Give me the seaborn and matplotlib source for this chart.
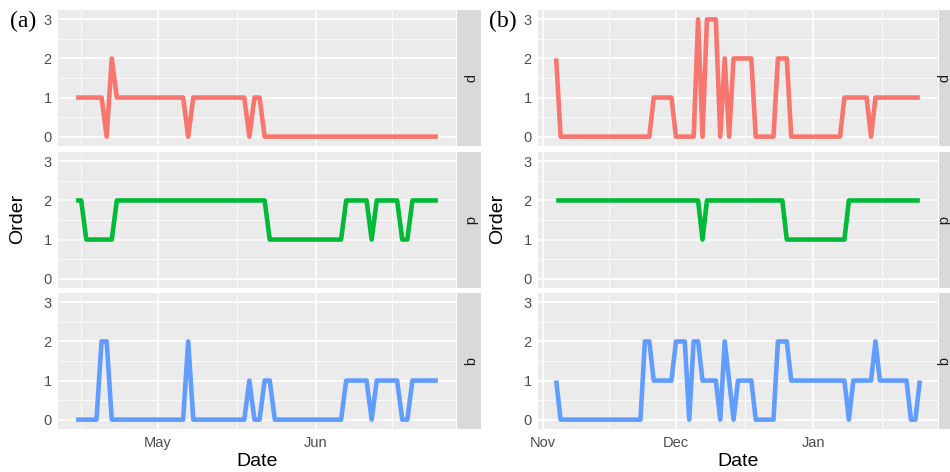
import pandas as pd
import numpy as np
import seaborn as sns
import matplotlib.pyplot as plt
import matplotlib.dates as mdates
from matplotlib.ticker import FixedLocator

# facet rows (top to bottom) and their colours
facets = ["p", "d", "q"]
colors = ["#F8766D", "#00BA38", "#619CFF"]

# (a) daily values starting 15 Apr
start_a = "2019-04-15"
d_a = [1, 1, 1, 1, 1, 1, 0, 2, 1, 1,
       1, 1, 1, 1, 1, 1, 1, 1, 1, 1,
       1, 1, 0, 1, 1, 1, 1, 1, 1, 1,
       1, 1, 1, 1, 0, 1, 1, 0, 0, 0,
       0, 0, 0, 0, 0, 0, 0, 0, 0, 0,
       0, 0, 0, 0, 0, 0, 0, 0, 0, 0,
       0, 0, 0, 0, 0, 0, 0, 0, 0, 0,
       0, 0]
p_a = [2, 2, 1, 1, 1, 1, 1, 1, 2, 2,
       2, 2, 2, 2, 2, 2, 2, 2, 2, 2,
       2, 2, 2, 2, 2, 2, 2, 2, 2, 2,
       2, 2, 2, 2, 2, 2, 2, 2, 1, 1,
       1, 1, 1, 1, 1, 1, 1, 1, 1, 1,
       1, 1, 1, 2, 2, 2, 2, 2, 1, 2,
       2, 2, 2, 2, 1, 1, 2, 2, 2, 2,
       2, 2]
b_a = [0, 0, 0, 0, 0, 2, 2, 0, 0, 0,
       0, 0, 0, 0, 0, 0, 0, 0, 0, 0,
       0, 0, 2, 0, 0, 0, 0, 0, 0, 0,
       0, 0, 0, 0, 1, 0, 0, 1, 1, 0,
       0, 0, 0, 0, 0, 0, 0, 0, 0, 0,
       0, 0, 0, 1, 1, 1, 1, 1, 0, 1,
       1, 1, 1, 1, 0, 0, 1, 1, 1, 1,
       1, 1]

# (b) daily values starting 4 Nov
start_b = "2019-11-04"
d_b = [2, 0, 0, 0, 0, 0, 0, 0, 0, 0,
       0, 0, 0, 0, 0, 0, 0, 0, 0, 0,
       0, 0, 1, 1, 1, 1, 1, 0, 0, 0,
       0, 0, 3, 0, 3, 3, 3, 0, 2, 0,
       2, 2, 2, 2, 2, 0, 0, 0, 0, 0,
       2, 2, 2, 0, 0, 0, 0, 0, 0, 0,
       0, 0, 0, 0, 0, 1, 1, 1, 1, 1,
       1, 0, 1, 1, 1, 1, 1, 1, 1, 1,
       1, 1, 1]
p_b = [2, 2, 2, 2, 2, 2, 2, 2, 2, 2,
       2, 2, 2, 2, 2, 2, 2, 2, 2, 2,
       2, 2, 2, 2, 2, 2, 2, 2, 2, 2,
       2, 2, 2, 1, 2, 2, 2, 2, 2, 2,
       2, 2, 2, 2, 2, 2, 2, 2, 2, 2,
       2, 2, 1, 1, 1, 1, 1, 1, 1, 1,
       1, 1, 1, 1, 1, 1, 2, 2, 2, 2,
       2, 2, 2, 2, 2, 2, 2, 2, 2, 2,
       2, 2, 2]
b_b = [1, 0, 0, 0, 0, 0, 0, 0, 0, 0,
       0, 0, 0, 0, 0, 0, 0, 0, 0, 0,
       2, 2, 1, 1, 1, 1, 1, 2, 2, 2,
       0, 2, 2, 1, 1, 1, 1, 0, 2, 1,
       0, 1, 1, 1, 1, 0, 0, 0, 0, 0,
       2, 2, 2, 1, 1, 1, 1, 1, 1, 1,
       1, 1, 1, 1, 1, 1, 0, 1, 1, 1,
       1, 1, 2, 1, 1, 1, 1, 1, 1, 1,
       0, 0, 1]


def make_long(start, series):
    dates = pd.date_range(start, periods=len(series[0]), freq="D")
    frames = [pd.DataFrame({"Date": dates, "Order": vals, "facet": name})
              for name, vals in zip(facets, series)]
    return pd.concat(frames, ignore_index=True)


df_a = make_long(start_a, [d_a, p_a, b_a])
df_b = make_long(start_b, [d_b, p_b, b_b])

sns.set_theme(style="darkgrid", rc={"axes.facecolor": "#EBEBEB",
                                    "grid.color": "white"})
plt.rcParams["font.family"] = ["Liberation Sans", "DejaVu Sans"]

W, H = 950, 472
fig = plt.figure(figsize=(W / 100, H / 100), dpi=100)
fig.patch.set_facecolor("white")

rows_px = [(10, 146), (152, 288), (293, 429)]
# data frame, panel left/right in px, tag, strip text offset inside the strip
panels = [(df_a, 58, 456, "(a)", 12), (df_b, 538, 938, "(b)", 3.5)]

for df, left, right, tag, txt_off in panels:
    dmin, dmax = df["Date"].min(), df["Date"].max()
    pad = (dmax - dmin) * 0.05
    months = pd.date_range(dmin - pd.DateOffset(months=2),
                           dmax + pd.DateOffset(months=2), freq="MS")
    mids = months[:-1] + (months[1:] - months[:-1]) / 2

    for i, (top, bot) in enumerate(rows_px):
        ax = fig.add_axes([left / W, 1 - bot / H, (right - left) / W, (bot - top) / H])
        sub = df[df["facet"] == facets[i]]
        sns.lineplot(data=sub, x="Date", y="Order", color=colors[i], linewidth=3.3,
                     errorbar=None, legend=False, ax=ax,
                     solid_joinstyle="round", solid_capstyle="butt")
        ax.set_facecolor("#EBEBEB")
        ax.set_xlim(dmin - pad, dmax + pad)
        ax.set_ylim(-0.24, 3.24)
        ax.set_yticks([0, 1, 2, 3])
        ax.yaxis.set_minor_locator(FixedLocator([0.5, 1.5, 2.5]))
        ax.xaxis.set_major_locator(mdates.MonthLocator())
        ax.xaxis.set_major_formatter(mdates.DateFormatter("%b"))
        ax.xaxis.set_minor_locator(FixedLocator(mdates.date2num(mids)))
        ax.grid(which="major", color="white", linewidth=1.1)
        ax.grid(which="minor", color="white", linewidth=0.55)
        for s in ax.spines.values():
            s.set_visible(False)
        ax.tick_params(which="minor", length=0)
        ax.tick_params(axis="y", which="major", length=3, width=0.8, color="#333333",
                       labelsize=10.5, labelcolor="#4D4D4D", pad=1.5)
        if i < 2:
            ax.tick_params(axis="x", which="major", length=0, labelbottom=False)
        else:
            ax.tick_params(axis="x", which="major", length=3, width=0.8, color="#333333",
                           labelsize=10.5, labelcolor="#4D4D4D", pad=2)
        ax.set_xlabel("")
        ax.set_ylabel("")

        # facet strip on the right
        sax = fig.add_axes([(right + 1) / W, 1 - bot / H, 24 / W, (bot - top) / H])
        sax.set_facecolor("#D9D9D9")
        sax.set_xticks([])
        sax.set_yticks([])
        sax.grid(False)
        for s in sax.spines.values():
            s.set_visible(False)
        sax.text(txt_off / 24, 0.5, facets[i], rotation=-90, ha="center", va="center",
                 transform=sax.transAxes, color="#1A1A1A", fontsize=10.5)

    cx = (left + right) / 2
    fig.text(cx / W, 1 - 461 / H, "Date", ha="center", va="center", fontsize=14,
             color="black")
    fig.text((left - 40) / W, 1 - 219 / H, "Order", ha="center", va="center",
             rotation=90, fontsize=14, color="black")
    fig.text((left - 35) / W, 1 - 21 / H, tag, ha="center", va="center",
             fontsize=17, family="Liberation Serif", color="black")

fig.savefig("out.png", dpi=100)
